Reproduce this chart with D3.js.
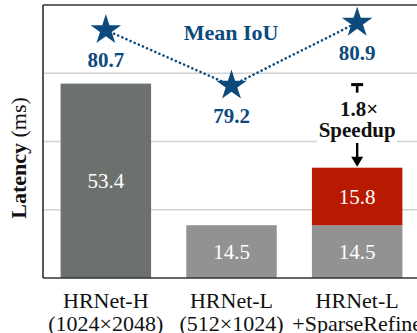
<!DOCTYPE html>
<html><head><meta charset="utf-8">
<script src="https://cdn.jsdelivr.net/npm/d3@7"></script>
<style>html,body{margin:0;padding:0;background:#fff;overflow:hidden}</style>
</head><body>
<svg id="c" width="417" height="333"></svg>
<script>
const categories = ["HRNet-H\n(1024×2048)", "HRNet-L\n(512×1024)", "HRNet-L\n+SparseRefine"];
const baseLatency = [53.4, 14.5, 14.5];
const refineLatency = [0, 0, 15.8];
const miou = [80.7, 79.2, 80.9];
const yTicks = [0, 18.75, 37.5, 56.25, 75];
const speedupLabel = ["1.8×", "Speedup"];

const svg = d3.select("#c");
const serif = "'Liberation Serif','Times New Roman',serif";
const blue = "#0d4a7c";
const m = {left: 43, top: 5, bottom: 278, right: 420};

const x = d3.scaleBand().domain(categories).range([m.left, m.right]).paddingInner(0.28).paddingOuter(0.14);
const y = d3.scaleLinear().domain([0, 75]).range([m.bottom, m.top]);
const y2 = d3.scaleLinear().domain([79, 81]).range([93, 19]);

// grid
svg.append("g").selectAll("line").data(yTicks.slice(1, -1)).join("line")
  .attr("x1", m.left).attr("x2", 417).attr("y1", d => y(d)).attr("y2", d => y(d))
  .attr("stroke", "#d2d2d2").attr("stroke-width", 1.5);

// bars
const barColors = ["#6c716e", "#929292", "#929292"];
svg.append("g").selectAll("rect").data(baseLatency).join("rect")
  .attr("x", (d, i) => x(categories[i])).attr("width", x.bandwidth())
  .attr("y", d => y(d)).attr("height", d => y(0) - y(d))
  .attr("fill", (d, i) => barColors[i]);
svg.append("g").selectAll("rect").data(refineLatency).join("rect")
  .filter(d => d > 0)
  .attr("x", (d, i) => x(categories[2])).attr("width", x.bandwidth())
  .attr("y", d => y(d + baseLatency[2])).attr("height", d => y(0) - y(d))
  .attr("fill", "#b71a00");

// bar labels
const lbl = svg.append("g").attr("font-family", serif).attr("font-size", 21).attr("fill", "#fff").attr("text-anchor", "middle");
baseLatency.forEach((d, i) => {
  lbl.append("text").attr("x", x(categories[i]) + x.bandwidth() / 2).attr("y", y(d / 2)).attr("dy", "0.35em").text(d.toFixed(1));
});
refineLatency.forEach((d, i) => {
  if (d > 0) lbl.append("text").attr("x", x(categories[i]) + x.bandwidth() / 2)
    .attr("y", y(baseLatency[i] + d / 2)).attr("dy", "0.35em").text(d.toFixed(1));
});

// axes frame
svg.append("line").attr("x1", m.left).attr("x2", 417).attr("y1", y(75)).attr("y2", y(75)).attr("stroke", "#333").attr("stroke-width", 1.5);
svg.append("line").attr("x1", m.left).attr("x2", 417).attr("y1", y(0)).attr("y2", y(0)).attr("stroke", "#333").attr("stroke-width", 1.5);
svg.append("line").attr("x1", m.left).attr("x2", m.left).attr("y1", y(75)).attr("y2", y(0)).attr("stroke", "#222").attr("stroke-width", 1.5);

// category labels
const cl = svg.append("g").attr("font-family", serif).attr("font-size", 22).attr("fill", "#111").attr("text-anchor", "middle");
categories.forEach(c => {
  const t = cl.append("text").attr("x", x(c) + x.bandwidth() / 2).attr("y", 308);
  c.split("\n").forEach((s, k) => t.append("tspan").attr("x", x(c) + x.bandwidth() / 2).attr("dy", k ? 23 : 0).text(s));
});

// y label
const yl = svg.append("text").attr("transform", "translate(26,158) rotate(-90)")
  .attr("font-family", serif).attr("font-size", 22).attr("text-anchor", "middle").attr("fill", "#111");
yl.append("tspan").attr("font-weight", "bold").text("Latency");
yl.append("tspan").text(" (ms)");

// mIoU line
const cx = i => x(categories[i]) + x.bandwidth() / 2;
svg.append("path").datum(miou)
  .attr("d", d3.line().x((d, i) => cx(i)).y(d => y2(d)))
  .attr("fill", "none").attr("stroke", blue).attr("stroke-width", 2.6)
  .attr("stroke-dasharray", "0.1 4.4").attr("stroke-linecap", "round");
svg.append("g").selectAll("path").data(miou).join("path")
  .attr("d", d3.symbol(d3.symbolStar, 290))
  .attr("transform", (d, i) => `translate(${cx(i)},${y2(d)})`)
  .attr("fill", blue);
svg.append("g").selectAll("text").data(miou).join("text")
  .attr("x", (d, i) => cx(i)).attr("y", d => y2(d) + 37)
  .attr("text-anchor", "middle").attr("font-family", serif).attr("font-weight", "bold")
  .attr("font-size", 21).attr("fill", blue).text(d => d.toFixed(1));
svg.append("text").attr("x", 231).attr("y", 40).attr("text-anchor", "middle")
  .attr("font-family", serif).attr("font-weight", "bold").attr("font-size", 22).attr("fill", blue).text("Mean IoU");

// speedup annotation
const ax = cx(2);
const yTop = y(baseLatency[0]);
const yTip = y(baseLatency[2] + refineLatency[2]);
svg.append("line").attr("x1", ax - 6).attr("x2", ax + 6).attr("y1", yTop + 1).attr("y2", yTop + 1).attr("stroke", "#000").attr("stroke-width", 3);
svg.append("line").attr("x1", ax).attr("x2", ax).attr("y1", yTop).attr("y2", yTop + 9).attr("stroke", "#000").attr("stroke-width", 2.6);
svg.append("rect").attr("x", ax - 40).attr("y", 96).attr("width", 80).attr("height", 48).attr("fill", "#fff");
const st = svg.append("g").attr("font-family", serif).attr("font-weight", "bold").attr("font-size", 21).attr("fill", "#111").attr("text-anchor", "middle");
st.append("text").attr("x", ax + 2).attr("y", 116).text(speedupLabel[0]);
st.append("text").attr("x", ax).attr("y", 137).text(speedupLabel[1]);
svg.append("line").attr("x1", ax).attr("x2", ax).attr("y1", 143).attr("y2", yTip - 8).attr("stroke", "#000").attr("stroke-width", 2.4);
svg.append("path").attr("d", `M${ax - 6},${yTip - 11}L${ax + 6},${yTip - 11}L${ax},${yTip - 1}Z`).attr("fill", "#000");
</script>
</body></html>
